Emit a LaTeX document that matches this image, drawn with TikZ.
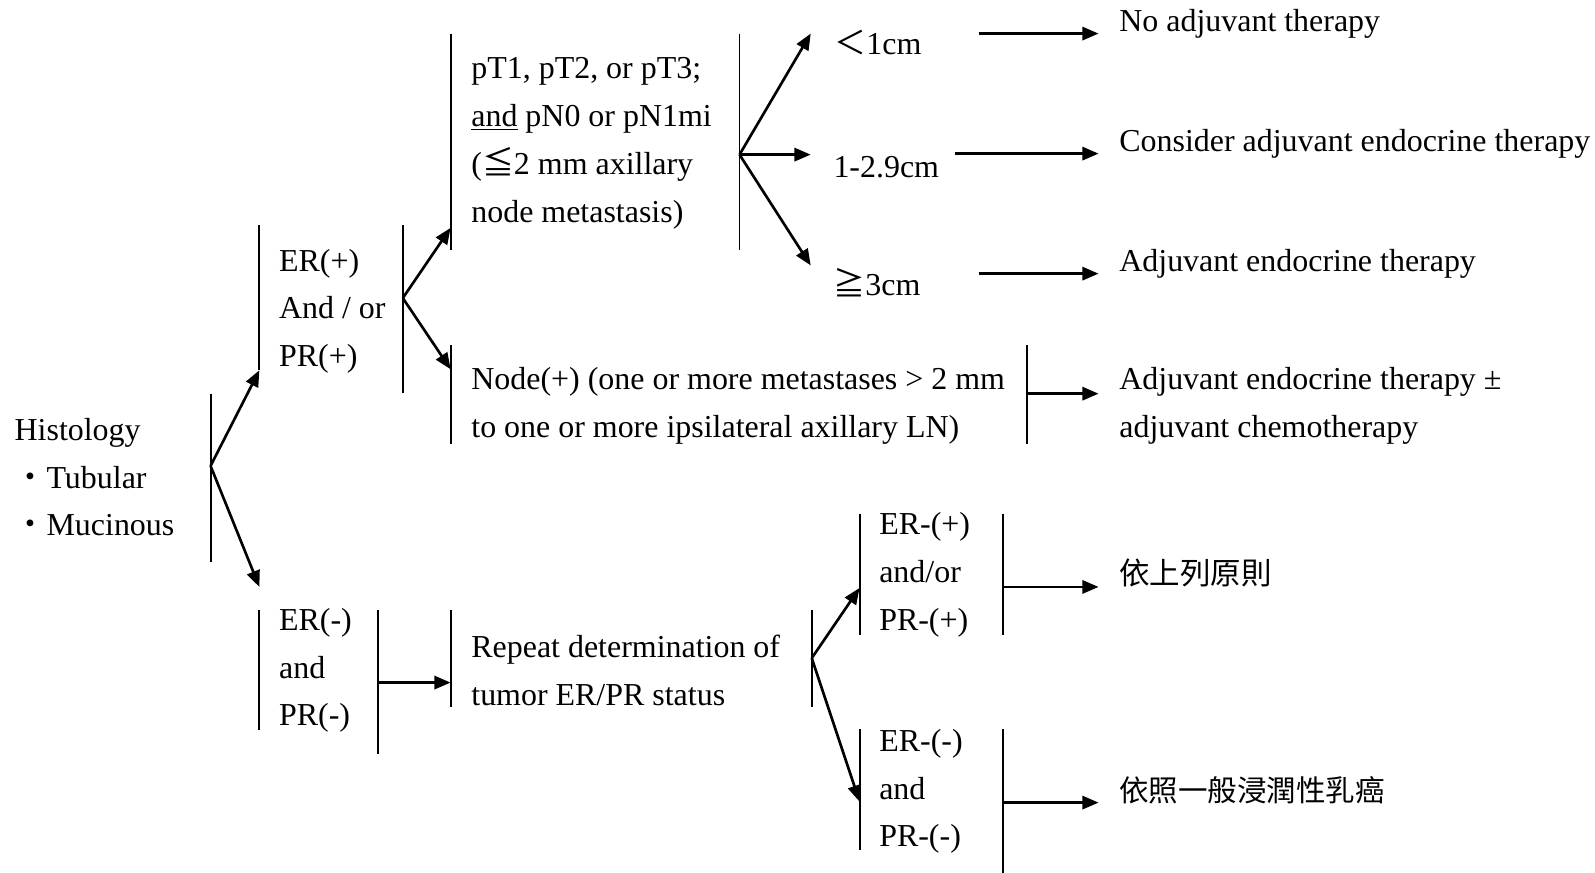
\documentclass[tikz,border=0pt]{standalone}
\usepackage{fontspec}
\setmainfont{Liberation Serif}
\newfontfamily\cjk{Noto Sans CJK TC}
\usetikzlibrary{arrows.meta}

\begin{document}
\begin{tikzpicture}[x=0.5pt, y=-0.5pt,
  >={Triangle[length=8pt,width=6.5pt]},
  bar/.style={line width=0.95pt},
  arr/.style={->, line width=1.3pt},
  txt/.style={anchor=west, align=left, inner sep=0pt,
    font=\fontsize{15.7}{23.5}\selectfont}]
  \useasboundingbox (0,0) rectangle (1568,858);

  % Histology
  \node[txt] (hist) at (14,469) {Histology\\{\cjk ・}Tubular\\{\cjk ・}Mucinous};
  \draw[bar] (207,387) -- (207,552);
  \coordinate (b0) at (207,458);
  \coordinate (t0a) at (255,364);
  \coordinate (t0b) at (255,577);
  \draw[arr] (b0) -- (t0a);
  \draw[arr] (b0) -- (t0b);

  % ER(+) and/or PR(+)
  \draw[bar] (255,221) -- (255,364);
  \node[txt] (erp) at (274,306) {ER(+)\\And / or\\PR(+)};
  \draw[bar] (396,221) -- (396,386);
  \coordinate (b1) at (396,293);
  \coordinate (t1a) at (443,224);
  \coordinate (t1b) at (443,363);
  \draw[arr] (b1) -- (t1a);
  \draw[arr] (b1) -- (t1b);

  % pT1-3, pN0 / pN1mi
  \draw[bar] (443,33) -- (443,246);
  \node[txt] (pt) at (463,141) {pT1, pT2, or pT3;\\\underline{and} pN0 or pN1mi\\({\cjk ≦}2 mm axillary\\node metastasis)};
  \draw[bar] (727,33) -- (727,246);
  \coordinate (b2) at (727,152);
  \coordinate (t2a) at (797,33);
  \coordinate (t2b) at (797,152);
  \coordinate (t2c) at (797,261);
  \draw[arr] (b2) -- (t2a);
  \draw[arr] (b2) -- (t2b);
  \draw[arr] (b2) -- (t2c);

  % tumour size
  \node[txt] (s1) at (820,42) {{\cjk ＜}1cm};
  \node[txt] (s2) at (819,164) {1-2.9cm};
  \node[txt] (s3) at (819,278) {{\cjk ≧}3cm};
  \coordinate (s1o) at (962,33);
  \coordinate (s2o) at (939,151);
  \coordinate (s3o) at (962,269);
  \coordinate (r1i) at (1080,33);
  \coordinate (r2i) at (1080,151);
  \coordinate (r3i) at (1080,269);
  \draw[arr] (s1o) -- (r1i);
  \draw[arr] (s2o) -- (r2i);
  \draw[arr] (s3o) -- (r3i);
  \node[txt] (r1) at (1100,23) {No adjuvant therapy};
  \node[txt] (r2) at (1100,141) {Consider adjuvant endocrine therapy};
  \node[txt] (r3) at (1100,259) {Adjuvant endocrine therapy};

  % Node(+)
  \draw[bar] (443,339) -- (443,436);
  \node[txt] (np) at (463,399) {Node(+) (one or more metastases > 2 mm\\to one or more ipsilateral axillary LN)};
  \draw[bar] (1010,339) -- (1010,436);
  \coordinate (b3) at (1010,387);
  \coordinate (r4i) at (1080,387);
  \draw[arr] (b3) -- (r4i);
  \node[txt] (r4) at (1100,399) {Adjuvant endocrine therapy ±\\adjuvant chemotherapy};

  % ER(-) and PR(-)
  \draw[bar] (255,600) -- (255,718);
  \node[txt] (ern) at (274,659) {ER(-)\\and\\PR(-)};
  \draw[bar] (372,600) -- (372,741);
  \coordinate (b4) at (372,671);
  \coordinate (t4) at (443,671);
  \draw[arr] (b4) -- (t4);

  % repeat ER/PR
  \draw[bar] (443,600) -- (443,695);
  \node[txt] (rep) at (463,659) {Repeat determination of\\tumor ER/PR status};
  \draw[bar] (798,600) -- (798,695);
  \coordinate (b5) at (798,647);
  \coordinate (t5a) at (845,578);
  \coordinate (t5b) at (845,788);
  \draw[arr] (b5) -- (t5a);
  \draw[arr] (b5) -- (t5b);

  % ER-(+) and/or PR-(+)
  \draw[bar] (845,505) -- (845,624);
  \node[txt] (rp) at (864,565) {ER-(+)\\and/or\\PR-(+)};
  \draw[bar] (986,505) -- (986,624);
  \coordinate (b6) at (986,577);
  \coordinate (r5i) at (1080,577);
  \draw[arr] (b6) -- (r5i);
  \node[txt] (r5) at (1100,563) {\cjk\fontsize{15}{23.5}\selectfont 依上列原則};

  % ER-(-) and PR-(-)
  \draw[bar] (845,717) -- (845,836);
  \node[txt] (rn) at (864,778) {ER-(-)\\and\\PR-(-)};
  \draw[bar] (986,717) -- (986,858);
  \coordinate (b7) at (986,789);
  \coordinate (r6i) at (1080,789);
  \draw[arr] (b7) -- (r6i);
  \node[txt] (r6) at (1100,777) {\cjk\fontsize{14.5}{23.5}\selectfont 依照一般浸潤性乳癌};
\end{tikzpicture}
\end{document}
